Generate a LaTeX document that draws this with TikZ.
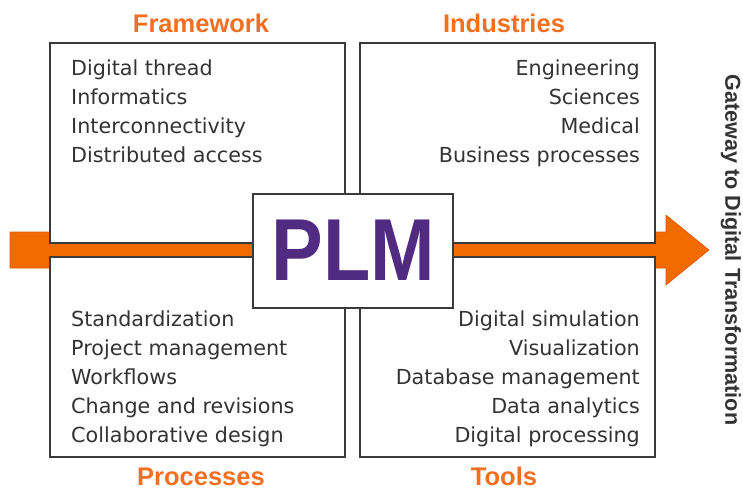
\documentclass[tikz,border=0pt]{standalone}
\usepackage{fontspec}
\usepackage{graphicx}
\setmainfont{DejaVu Sans}
\newfontfamily\headfont{Liberation Sans}
\definecolor{orng}{HTML}{F26A00}
\definecolor{orngdark}{HTML}{D85E00}
\definecolor{headorng}{HTML}{F36F21}
\definecolor{plmpurple}{HTML}{512B81}
\definecolor{txtgray}{HTML}{333333}
\definecolor{boxgray}{HTML}{3A3A3A}
\tikzset{
  quad/.style={draw=boxgray, line width=2pt, fill=white, minimum width=295pt, minimum height=200pt, inner sep=0pt},
  itemtext/.style={font=\fontsize{20.7}{24}\selectfont, text=txtgray, inner sep=0pt},
  headtext/.style={font=\headfont\bfseries\fontsize{25.5}{30}\selectfont, text=headorng, inner sep=0pt, anchor=base},
}
\begin{document}
\begin{tikzpicture}[x=1pt, y=-1pt]
\useasboundingbox (0,0) rectangle (743,489);
% arrow
\draw[fill=orng, draw=orngdark, line width=0.6pt, line join=miter]
  (10,232) -- (666,232) -- (666,215) -- (709,250) -- (666,285) -- (666,268) -- (10,268) -- cycle;
% quadrant boxes
\node[quad] (fw) at (197.5,143) {};
\node[quad] (ind) at (507.5,143) {};
\node[quad] (proc) at (197.5,357) {};
\node[quad] (tools) at (507.5,357) {};
% PLM box
\node[draw=boxgray, line width=2pt, fill=white, minimum width=200pt, minimum height=114pt, inner sep=0pt] (plmbox) at (353,251) {};
\node[anchor=base, inner sep=0pt, text=plmpurple, font=\headfont\bfseries\fontsize{88}{90}\selectfont] (plm) at (353.5,280) {\scalebox{0.88}[1]{PLM}};
% headings
\node[headtext] (hfw) at (201,33) {Framework};
\node[headtext] (hind) at (504,33) {Industries};
\node[headtext] (hproc) at (201,485) {Processes};
\node[headtext] (htools) at (504,485) {Tools};
% items
\foreach \t [count=\i] in {Digital thread, Informatics, Interconnectivity, Distributed access}
  \node[itemtext, anchor=base west] (fwi\i) at (71,{76+29*(\i-1)}) {\t};
\foreach \t [count=\i] in {Engineering, Sciences, Medical, Business processes}
  \node[itemtext, anchor=base east] (indi\i) at (640,{76+29*(\i-1)}) {\t};
\foreach \t [count=\i] in {Standardization, Project management, Workflows, Change and revisions, Collaborative design}
  \node[itemtext, anchor=base west] (proci\i) at (71,{326+29*(\i-1)}) {\t};
\foreach \t [count=\i] in {Digital simulation, Visualization, Database management, Data analytics, Digital processing}
  \node[itemtext, anchor=base east] (tooli\i) at (640,{326+29*(\i-1)}) {\t};
% side label
\node[rotate=-90, inner sep=0pt, text=txtgray, font=\headfont\bfseries\fontsize{21.6}{24}\selectfont] (gate) at (731,250) {Gateway to Digital Transformation};
\end{tikzpicture}
\end{document}
